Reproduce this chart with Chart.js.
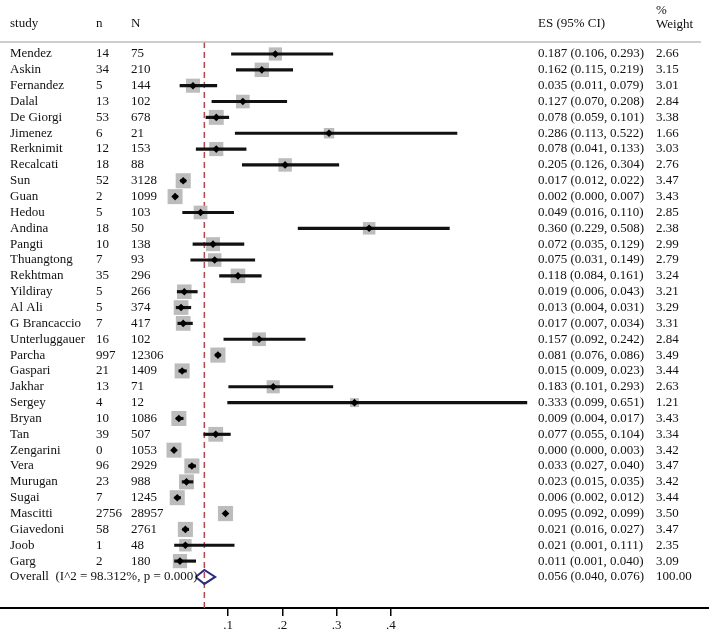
<!DOCTYPE html>
<html>
<head>
<meta charset="utf-8">
<script src="https://cdn.jsdelivr.net/npm/chart.js@4"></script>
<style>
  html, body { margin: 0; padding: 0; background: #fff; }
  #wrap { width: 709px; height: 634px; position: relative; }
</style>
</head>
<body>
<div id="wrap"><canvas id="forest"></canvas></div>
<script>
// données
const studies = ['Mendez', 'Askin', 'Fernandez', 'Dalal', 'De Giorgi', 'Jimenez', 'Rerknimit', 'Recalcati',
  'Sun', 'Guan', 'Hedou', 'Andina', 'Pangti', 'Thuangtong', 'Rekhtman', 'Yildiray', 'Al Ali', 'G Brancaccio',
  'Unterluggauer', 'Parcha', 'Gaspari', 'Jakhar', 'Sergey', 'Bryan', 'Tan', 'Zengarini', 'Vera', 'Murugan',
  'Sugai', 'Mascitti', 'Giavedoni', 'Joob', 'Garg'];
const nEvents = [14, 34, 5, 13, 53, 6, 12, 18, 52, 2, 5, 18, 10, 7, 35, 5, 5, 7, 16, 997, 21, 13, 4, 10, 39, 0, 96, 23, 7, 2756, 58, 1, 2];
const nTotal = [75, 210, 144, 102, 678, 21, 153, 88, 3128, 1099, 103, 50, 138, 93, 296, 266, 374, 417, 102, 12306, 1409, 71, 12, 1086, 507, 1053, 2929, 988, 1245, 28957, 2761, 48, 180];
const es = [0.187, 0.162, 0.035, 0.127, 0.078, 0.286, 0.078, 0.205, 0.017, 0.002, 0.049, 0.360, 0.072, 0.075, 0.118, 0.019, 0.013, 0.017, 0.157, 0.081, 0.015, 0.183, 0.333, 0.009, 0.077, 0.000, 0.033, 0.023, 0.006, 0.095, 0.021, 0.021, 0.011];
const ciLow = [0.106, 0.115, 0.011, 0.070, 0.059, 0.113, 0.041, 0.126, 0.012, 0.000, 0.016, 0.229, 0.035, 0.031, 0.084, 0.006, 0.004, 0.007, 0.092, 0.076, 0.009, 0.101, 0.099, 0.004, 0.055, 0.000, 0.027, 0.015, 0.002, 0.092, 0.016, 0.001, 0.001];
const ciHigh = [0.293, 0.219, 0.079, 0.208, 0.101, 0.522, 0.133, 0.304, 0.022, 0.007, 0.110, 0.508, 0.129, 0.149, 0.161, 0.043, 0.031, 0.034, 0.242, 0.086, 0.023, 0.293, 0.651, 0.017, 0.104, 0.003, 0.040, 0.035, 0.012, 0.099, 0.027, 0.111, 0.040];
const weights = [2.66, 3.15, 3.01, 2.84, 3.38, 1.66, 3.03, 2.76, 3.47, 3.43, 2.85, 2.38, 2.99, 2.79, 3.24, 3.21, 3.29, 3.31, 2.84, 3.49, 3.44, 2.63, 1.21, 3.43, 3.34, 3.42, 3.47, 3.42, 3.44, 3.50, 3.47, 2.35, 3.09];
const overallLabel = 'Overall  (I^2 = 98.312%, p = 0.000)';
const overall = [0.056, 0.040, 0.076]; // ES, bas, haut
const overallWeight = '100.00';
const tickValues = [0.1, 0.2, 0.3, 0.4];
const tickLabels = ['.1', '.2', '.3', '.4'];

document.addEventListener('DOMContentLoaded', function () {
    const FONT = '"Liberation Serif", "Times New Roman", serif';
    const overallRow = studies.length;

    // barres des IC
    const ciData = studies.map((s, i) => ({ y: i, x: [ciLow[i], ciHigh[i]] }));
    // carrés gris (surface ~ poids)
    const squareData = studies.map((s, i) => ({ x: es[i], y: i }));
    const squareRadius = weights.map(w => 8.1 * Math.sqrt(w) / Math.SQRT2);
    // losange global
    const dh = 0.44;
    const diamondData = [
        { x: overall[1], y: overallRow },
        { x: overall[0], y: overallRow - dh },
        { x: overall[2], y: overallRow },
        { x: overall[0], y: overallRow + dh },
        { x: overall[1], y: overallRow }
    ];

    const yMin = -0.757, yMax = 34.96;

    const fmt3 = v => v.toFixed(3);

    // texte des colonnes + ligne d'en-tête
    const tablePlugin = {
        id: 'tableText',
        afterDraw(chart) {
            const ctx = chart.ctx;
            const y = chart.scales.y;
            const area = chart.chartArea;
            ctx.save();
            // ligne sous l'en-tête
            ctx.strokeStyle = '#bdbdbd';
            ctx.lineWidth = 1.5;
            ctx.beginPath();
            ctx.moveTo(0, area.top);
            ctx.lineTo(701, area.top);
            ctx.stroke();

            ctx.fillStyle = '#111';
            ctx.font = '13px ' + FONT;
            ctx.textBaseline = 'middle';
            ctx.textAlign = 'left';
            ctx.fillText('study', 10, 24);
            ctx.fillText('n', 96, 24);
            ctx.fillText('N', 131, 24);
            ctx.fillText('ES (95% CI)', 538, 24);
            ctx.fillText('%', 656, 11);
            ctx.fillText('Weight', 656, 25);

            studies.forEach((s, i) => {
                const py = y.getPixelForValue(i);
                ctx.fillText(s, 10, py);
                ctx.fillText(String(nEvents[i]), 96, py);
                ctx.fillText(String(nTotal[i]), 131, py);
                ctx.fillText(fmt3(es[i]) + ' (' + fmt3(ciLow[i]) + ', ' + fmt3(ciHigh[i]) + ')', 538, py);
                ctx.fillText(weights[i].toFixed(2), 656, py);
            });
            const po = y.getPixelForValue(overallRow);
            ctx.fillText(overallLabel, 10, po);
            ctx.fillText(fmt3(overall[0]) + ' (' + fmt3(overall[1]) + ', ' + fmt3(overall[2]) + ')', 538, po);
            ctx.fillText(overallWeight, 656, po);
            ctx.restore();
        }
    };

    const ctx = document.getElementById('forest').getContext('2d');
    new Chart(ctx, {
        type: 'scatter',
        data: {
            datasets: [
                {
                    type: 'line',
                    data: [{ x: overall[0], y: yMin }, { x: overall[0], y: yMax }],
                    borderColor: '#b5474a',
                    borderWidth: 1.5,
                    borderDash: [6, 4],
                    pointRadius: 0,
                    order: 5
                },
                {
                    type: 'scatter',
                    data: squareData,
                    pointStyle: 'rect',
                    pointRadius: squareRadius,
                    backgroundColor: '#bcbcbc',
                    borderWidth: 0,
                    order: 4
                },
                {
                    type: 'bar',
                    indexAxis: 'y',
                    data: ciData,
                    backgroundColor: '#111',
                    barThickness: 2.5,
                    order: 3
                },
                {
                    type: 'scatter',
                    data: squareData,
                    pointStyle: 'rectRot',
                    pointRadius: 3.8,
                    backgroundColor: '#000',
                    borderWidth: 0,
                    order: 2
                },
                {
                    type: 'line',
                    data: diamondData,
                    borderColor: '#2b2b80',
                    borderWidth: 2,
                    pointRadius: 0,
                    fill: false,
                    tension: 0,
                    order: 1
                }
            ]
        },
        options: {
            responsive: true,
            maintainAspectRatio: false,
            animation: false,
            layout: { autoPadding: false, padding: { top: 42, left: 0, right: 0, bottom: 0 } },
            plugins: {
                legend: { display: false },
                tooltip: { enabled: false }
            },
            scales: {
                x: {
                    type: 'linear',
                    offset: false,
                    min: -0.321,
                    max: 0.987,
                    afterBuildTicks: axis => { axis.ticks = tickValues.map(v => ({ value: v })); },
                    afterFit: axis => { axis.height = 26; },
                    ticks: {
                        autoSkip: false,
                        maxRotation: 0,
                        color: '#111',
                        padding: 3,
                        font: { family: FONT, size: 13, lineHeight: 1 },
                        callback: (v) => tickLabels[tickValues.indexOf(v)]
                    },
                    grid: { offset: false, drawOnChartArea: false, drawTicks: true, tickLength: 8, color: '#000', lineWidth: 1.5 },
                    border: { display: true, color: '#000', width: 2 }
                },
                y: {
                    type: 'linear',
                    offset: false,
                    reverse: true,
                    min: yMin,
                    max: yMax,
                    display: false,
                    grid: { offset: false }
                }
            }
        },
        plugins: [tablePlugin]
    });
});
</script>
</body>
</html>
